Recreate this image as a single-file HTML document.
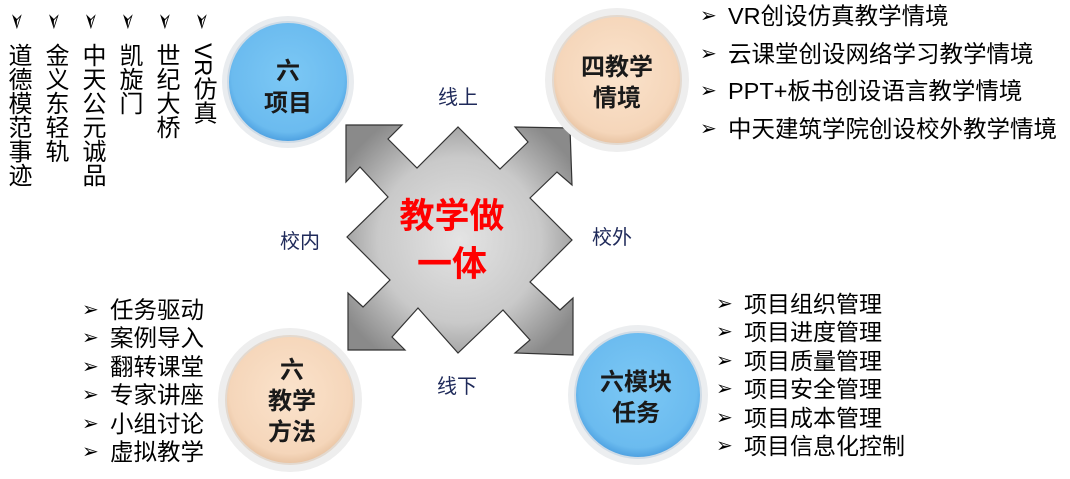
<!DOCTYPE html>
<html><head><meta charset="utf-8"><style>
html,body{margin:0;padding:0;background:#fff;}
body{width:1070px;height:479px;overflow:hidden;position:relative;font-family:"Liberation Sans","Noto Sans CJK SC",sans-serif;}
.vt{position:absolute;writing-mode:vertical-rl;font-size:24px;line-height:26px;color:#000;top:43px;}
.chev{position:absolute;top:8px;font-size:22px;color:#000;transform:rotate(90deg);}
.list{position:absolute;font-size:23.5px;color:#000;}
.list div{height:28.4px;line-height:28px;white-space:nowrap;}
.list span{display:inline-block;width:28px;font-size:20px;vertical-align:top;}
</style></head><body>
<svg width="1070" height="479" style="position:absolute;left:0;top:0">
<defs>
<radialGradient id="g" cx="50%" cy="50%" r="60%"><stop offset="0" stop-color="#e4e4e4"/><stop offset="0.6" stop-color="#c9c9c9"/><stop offset="1" stop-color="#8a8a8a"/></radialGradient>
<radialGradient id="blue" cx="50%" cy="45%" r="55%"><stop offset="0" stop-color="#7cc8f5"/><stop offset="0.85" stop-color="#6bbbef"/><stop offset="1" stop-color="#4c9fe0"/></radialGradient>
<radialGradient id="peach" cx="50%" cy="45%" r="55%"><stop offset="0" stop-color="#fbe3cc"/><stop offset="0.85" stop-color="#f5d6ba"/><stop offset="1" stop-color="#e8c3a2"/></radialGradient>
</defs>
<polygon points="346,125 402,125 388,139 417,168 458,127 500,169 528,142 515,127 570,128 572,185 557,172 530,198 572,240 530,282 560,310 573,298 573,355 515,353 530,340 503,310 458,353 418,308 392,337 405,350 348,350 348,293 363,307 390,280 347,237 388,197 360,167 346,182" fill="url(#g)" stroke="#333" stroke-width="1.2"/>
<g>
<circle cx="288" cy="82" r="66" fill="#e9ecef"/><circle cx="288" cy="82" r="60" fill="url(#blue)" stroke="#cfdbe6" stroke-width="2"/>
<circle cx="617" cy="80" r="72" fill="#eeeeee"/><circle cx="617" cy="80" r="64" fill="url(#peach)" stroke="#e3d9cf" stroke-width="2"/>
<circle cx="290" cy="400" r="72" fill="#eeeeee"/><circle cx="290" cy="400" r="64" fill="url(#peach)" stroke="#e3d9cf" stroke-width="2"/>
<circle cx="638" cy="395" r="70" fill="#eceef0"/><circle cx="638" cy="395" r="63" fill="url(#blue)" stroke="#cfdbe6" stroke-width="2"/>
</g>
<g font-family="Liberation Sans,Noto Sans CJK SC,sans-serif" font-weight="bold" font-size="24" fill="#1a1a1a" text-anchor="middle">
<text x="288" y="79">六</text><text x="288" y="111">项目</text>
<text x="617" y="75">四教学</text><text x="617" y="106">情境</text>
<text x="292" y="378">六</text><text x="292" y="409">教学</text><text x="292" y="440">方法</text>
<text x="636" y="390">六模块</text><text x="636" y="421">任务</text>
</g>
<g font-family="Liberation Sans,Noto Sans CJK SC,sans-serif" font-weight="bold" font-size="35" fill="#ff0000" text-anchor="middle">
<text x="452" y="228">教学做</text><text x="452" y="276">一体</text>
</g>
<g font-family="Liberation Sans,Noto Sans CJK SC,sans-serif" font-size="20" fill="#1f2a5a" text-anchor="middle">
<text x="458" y="104">线上</text><text x="300" y="248">校内</text><text x="612" y="244">校外</text><text x="457" y="393">线下</text>
</g>
</svg>
<div class="chev" style="left:8px">➢</div><div class="chev" style="left:45px">➢</div><div class="chev" style="left:82px">➢</div><div class="chev" style="left:119px">➢</div><div class="chev" style="left:156px">➢</div><div class="chev" style="left:193px">➢</div>
<div class="vt" style="left:4px">道德模范事迹</div>
<div class="vt" style="left:41px">金义东轻轨</div>
<div class="vt" style="left:78px">中天公元诚品</div>
<div class="vt" style="left:115px">凯旋门</div>
<div class="vt" style="left:152px">世纪大桥</div>
<div class="vt" style="left:189px">VR仿真</div>
<div class="list" style="left:700px;top:2px"><div style="height:37.5px;line-height:28px"><span>➢</span>VR创设仿真教学情境</div><div style="height:37.5px;line-height:28px"><span>➢</span>云课堂创设网络学习教学情境</div><div style="height:37.5px;line-height:28px"><span>➢</span>PPT+板书创设语言教学情境</div><div style="height:37.5px;line-height:28px"><span>➢</span>中天建筑学院创设校外教学情境</div></div>
<div class="list" style="left:82px;top:296px"><div><span>➢</span>任务驱动</div><div><span>➢</span>案例导入</div><div><span>➢</span>翻转课堂</div><div><span>➢</span>专家讲座</div><div><span>➢</span>小组讨论</div><div><span>➢</span>虚拟教学</div></div>
<div class="list" style="left:716px;top:290px;font-size:23px"><div><span>➢</span>项目组织管理</div><div><span>➢</span>项目进度管理</div><div><span>➢</span>项目质量管理</div><div><span>➢</span>项目安全管理</div><div><span>➢</span>项目成本管理</div><div><span>➢</span>项目信息化控制</div></div>
</body></html>
